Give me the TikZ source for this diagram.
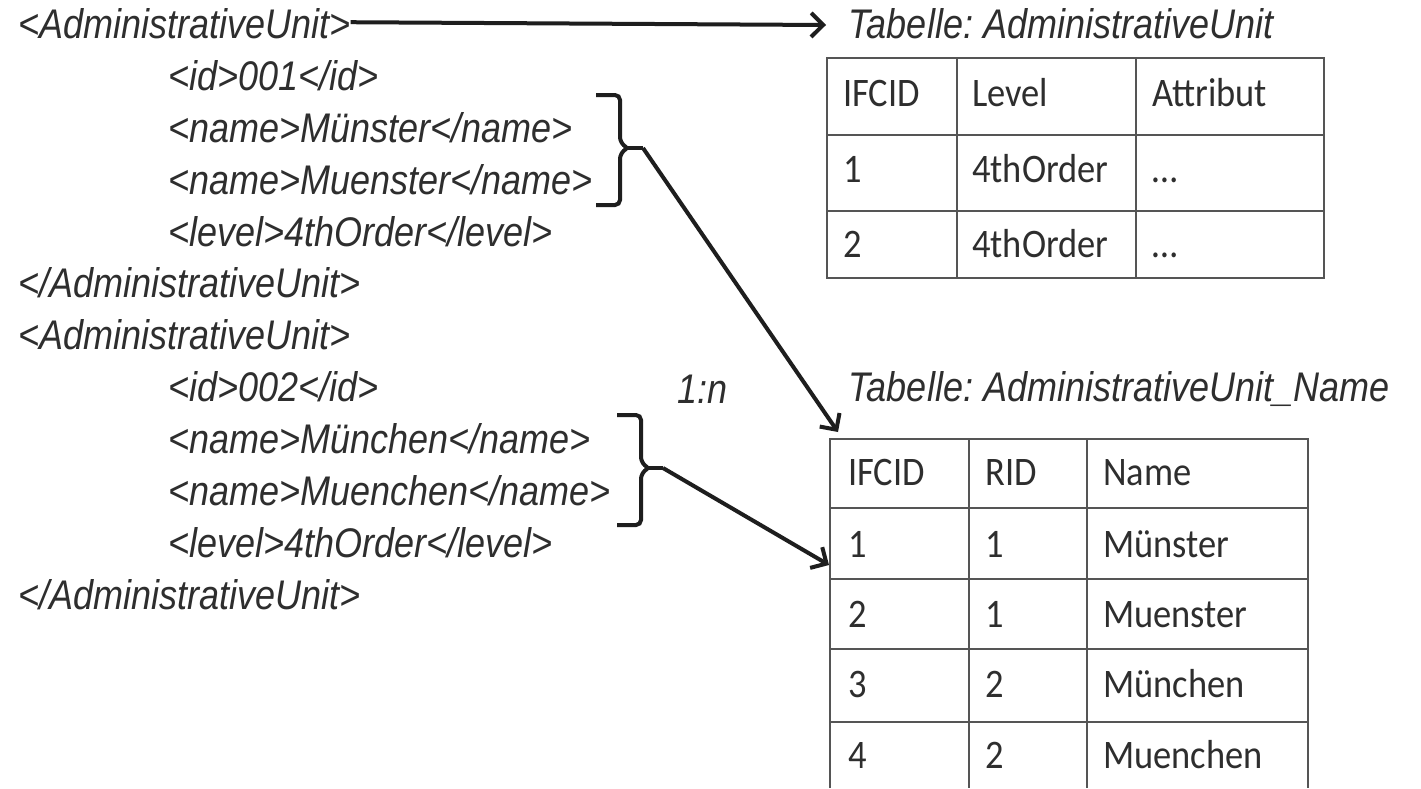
\documentclass[tikz,border=0pt]{standalone}
\usepackage{fontspec}
\setmainfont{Liberation Sans}
\newfontfamily\xmlfam{Liberation Sans}[FakeStretch=0.87]
\newfontfamily\calib{Carlito}[FakeStretch=0.9]
\usetikzlibrary{arrows.meta}
\definecolor{txt}{HTML}{2E2E2E}
\definecolor{gridc}{HTML}{555555}
\definecolor{arr}{HTML}{1E1E1E}
\newcommand\xmlfont{\xmlfam\itshape\fontsize{41.4}{44}\selectfont\frenchspacing}
\newcommand\cellfont{\calib\fontsize{40.5}{44}\selectfont}
\tikzset{
  xml/.style={anchor=base west, inner sep=0pt, font=\xmlfont, text=txt},
  cell/.style={anchor=base west, inner sep=0pt, font=\cellfont, text=txt},
  grid/.style={draw=gridc, line width=2pt},
  conn/.style={draw=arr, line width=4pt, -{Straight Barb[length=12pt,width=24pt]}},
  brk/.style={draw=arr, line width=4pt, rounded corners=5pt}
}
\begin{document}
\begin{tikzpicture}[x=1pt,y=-1pt]
\useasboundingbox[fill=white] (0,0) rectangle (1421,788);

% XML lines
\node[xml] (au1) at (18,38) {<AdministrativeUnit>};
\node[xml] (id1) at (168,90) {<id>001</id>};
\node[xml] (n1a) at (168,142) {<name>Münster</name>};
\node[xml] (n1b) at (168,194) {<name>Muenster</name>};
\node[xml] (lv1) at (168,246) {<level>4thOrder</level>};
\node[xml] (ce1) at (18,297) {</AdministrativeUnit>};
\node[xml] (au2) at (18,349) {<AdministrativeUnit>};
\node[xml] (id2) at (168,401) {<id>002</id>};
\node[xml] (n2a) at (168,453) {<name>München</name>};
\node[xml] (n2b) at (168,505) {<name>Muenchen</name>};
\node[xml] (lv2) at (168,557) {<level>4thOrder</level>};
\node[xml] (ce2) at (18,609) {</AdministrativeUnit>};

\node[xml] (rel) at (677,403) {1:n};

% table titles
\node[xml] (t1title) at (848,38) {Tabelle: AdministrativeUnit};
\node[xml] (t2title) at (848,401) {Tabelle: AdministrativeUnit\_Name};

% table 1 grid
\draw[grid] (827,58) rectangle (1324,278);
\draw[grid] (827,135) -- (1324,135);
\draw[grid] (827,211) -- (1324,211);
\draw[grid] (957,58) -- (957,278);
\draw[grid] (1136,58) -- (1136,278);

% table 1 cells
\node[cell] (a11) at (843,106) {IFCID};
\node[cell] (a12) at (972,106) {Level};
\node[cell] (a13) at (1152,106) {Attribut};
\node[cell] (a21) at (843,182) {1};
\node[cell] (a22) at (972,182) {4thOrder};
\node[cell] (a23) at (1152,182) {…};
\node[cell] (a31) at (843,257) {2};
\node[cell] (a32) at (972,257) {4thOrder};
\node[cell] (a33) at (1152,257) {…};

% table 2 grid
\draw[grid] (830,788) -- (830,439) -- (1308,439) -- (1308,788);
\foreach \yy in {508,579,649,722} \draw[grid] (830,\yy) -- (1308,\yy);
\draw[grid] (969,439) -- (969,788);
\draw[grid] (1087,439) -- (1087,788);

% table 2 cells
\node[cell] (b11) at (848,485) {IFCID};
\node[cell] (b12) at (985,485) {RID};
\node[cell] (b13) at (1103,485) {Name};
\node[cell] (b21) at (848,557) {1};
\node[cell] (b22) at (985,557) {1};
\node[cell] (b23) at (1103,557) {Münster};
\node[cell] (b31) at (848,627) {2};
\node[cell] (b32) at (985,627) {1};
\node[cell] (b33) at (1103,627) {Muenster};
\node[cell] (b41) at (848,697) {3};
\node[cell] (b42) at (985,697) {2};
\node[cell] (b43) at (1103,697) {München};
\node[cell] (b51) at (848,768) {4};
\node[cell] (b52) at (985,768) {2};
\node[cell] (b53) at (1103,768) {Muenchen};

% brackets
\draw[brk] (596,95) -- (620,95) -- (620,142) -- (627,148);
\draw[brk] (627,148) -- (620,154) -- (620,205) -- (596,205);
\draw[draw=arr, line width=4pt] (624,148) -- (643,148) coordinate (br1);
\draw[brk] (617,415) -- (641,415) -- (641,462) -- (648,468);
\draw[brk] (648,468) -- (641,474) -- (641,525) -- (617,525);
\draw[draw=arr, line width=4pt] (645,468) -- (663,468) coordinate (br2);

% connector end points
\coordinate (tip1) at (826,25);
\coordinate (tip2) at (838,432);
\coordinate (tip3) at (829,565);

% connectors
\draw[conn] (au1.east) ++(0,-1) coordinate (s1) -- (tip1);
\draw[conn] (br1) -- (tip2);
\draw[conn] (br2) -- (tip3);
\end{tikzpicture}
\end{document}
